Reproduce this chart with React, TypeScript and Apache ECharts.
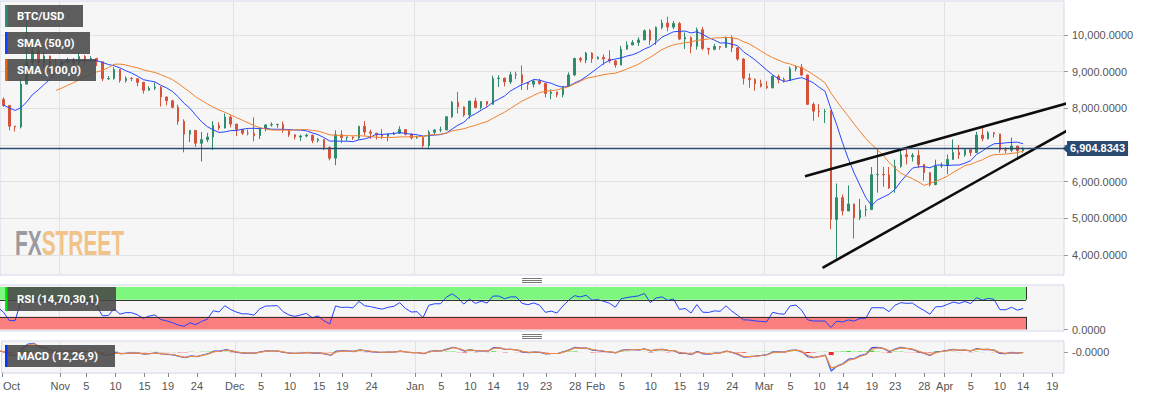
import React, { useEffect, useRef } from 'react';
import * as echarts from 'echarts';

// ---------- data (daily candles) ----------
const START_DATE = '2019-10-15';
const FIRST_OPEN = 8374;
const closes = [
  // Oct 15-31
  8205, 8016, 8081, 7951, 7955, 8222, 8243, 8078, 7514, 7493, 8660, 9244, 9551, 9256, 9427, 9205, 9199,
  // Nov
  9261, 9324, 9235, 9413, 9342, 9360, 9267, 8804, 8813, 9055, 8757, 8815, 8808, 8708, 8491, 8550, 8577, 8309, 8206, 8027,
  7642, 7296, 7397, 7047, 7146, 7218, 7531, 7463, 7761, 7569,
  // Dec
  7424, 7321, 7320, 7252, 7448, 7547, 7556, 7564, 7400, 7278, 7217, 7243, 7269, 7124, 7152, 6932, 6640, 7276, 7202, 7219,
  7191, 7511, 7355, 7322, 7275, 7238, 7290, 7317, 7422, 7293, 7193,
  // Jan
  7200, 6985, 7345, 7411, 7411, 7769, 8164, 8038, 7817, 8197, 8020, 8184, 8111, 8811, 8821, 8720, 8914, 8917, 8706, 8658,
  8745, 8680, 8406, 8445, 8368, 8596, 8910, 9358, 9316, 9508, 9351,
  // Feb
  9392, 9344, 9293, 9180, 9613, 9729, 9795, 9865, 10116, 9856, 10208, 10326, 10214, 10312, 9889, 9934, 9690, 10141, 9633, 9608,
  9686, 9663, 9924, 9650, 9342, 8820, 8784, 8672, 8599,
  // Mar
  8562, 8869, 8787, 8755, 9078, 9122, 8909, 8108, 7923, 7909, 7911, 4970, 5563, 5200, 5392, 5014, 5225, 5238, 6191, 6198,
  6185, 5830, 6416, 6734, 6681, 6716, 6469, 6243, 5922, 6429, 6438,
  // Apr 1-14
  6606, 6793, 6733, 6868, 6791, 7271, 7176, 7334, 7302, 6865, 6859, 6971, 6845, 6904.8343,
];
const highs = [
  8410, 8210, 8120, 8100, 8080, 8300, 8330, 8300, 8090, 7500, 8800, 10450, 9800, 9900, 9550, 9430, 9350,
  9300, 9380, 9370, 9520, 9450, 9420, 9380, 9260, 8880, 9120, 9070, 8870, 8850, 8820, 8720, 8600, 8700, 8600, 8320, 8230,
  8100, 7700, 7400, 7400, 7350, 7330, 7650, 7620, 7860, 7820,
  7570, 7430, 7420, 7750, 7480, 7560, 7620, 7570, 7640, 7420, 7290, 7280, 7310, 7280, 7190, 7160, 6960, 7400, 7400, 7230,
  7230, 7520, 7650, 7420, 7330, 7430, 7320, 7360, 7510, 7430, 7320,
  7250, 7210, 7400, 7430, 7500, 7790, 8200, 8450, 8050, 8200, 8290, 8190, 8200, 8890, 8900, 8840, 9000, 9000, 9170, 8700,
  8770, 8800, 8690, 8520, 8450, 8600, 8980, 9380, 9400, 9540, 9530,
  9420, 9470, 9580, 9320, 9700, 9830, 9860, 9940, 10150, 10160, 10230, 10420, 10500, 10380, 10350, 10070, 9960, 10200, 10220, 9650,
  9760, 9700, 9960, 9990, 9660, 9370, 8950, 8820, 8780,
  8740, 8900, 8920, 8840, 9140, 9170, 9210, 8920, 8160, 8120, 7980, 7950, 5950, 5650, 5900, 5380, 5530, 5360, 6400, 6900,
  6400, 6400, 6600, 6850, 6940, 6780, 6870, 6300, 6260, 6600, 6520,
  6740, 7150, 7000, 6900, 6880, 7360, 7460, 7380, 7350, 7300, 6940, 7200, 6960, 6940,
];
const lows = [
  8150, 7930, 7960, 7850, 7870, 7890, 8150, 8040, 7400, 7370, 7450, 8800, 9100, 9150, 9100, 9000, 8980,
  9050, 9220, 9090, 9150, 9190, 9280, 9150, 8740, 8770, 8780, 8700, 8700, 8740, 8600, 8400, 8480, 8500, 8050, 8080, 8000,
  7550, 6800, 7080, 6950, 6550, 7080, 6860, 7400, 7450, 7480,
  7240, 7270, 7260, 7100, 7160, 7370, 7500, 7470, 7330, 7220, 7150, 7110, 7210, 7050, 7070, 6860, 6580, 6450, 7050, 7110,
  7140, 7150, 7260, 7170, 7150, 7160, 7100, 7280, 7300, 7260, 7150,
  7170, 6930, 6880, 7280, 7350, 7400, 7740, 7860, 7770, 7720, 8000, 7970, 8050, 8100, 8580, 8600, 8660, 8800, 8500, 8500,
  8570, 8640, 8300, 8250, 8300, 8300, 8580, 8880, 9250, 9230, 9240,
  9330, 9180, 9230, 9110, 9180, 9600, 9720, 9700, 9880, 9730, 9730, 10150, 10100, 10160, 9860, 9620, 9500, 9600, 9580, 9460,
  9580, 9600, 9650, 9530, 9300, 8650, 8560, 8480, 8570,
  8530, 8540, 8680, 8700, 8760, 9010, 8880, 8090, 7660, 7760, 7600, 4700, 3900, 5080, 5200, 4450, 4950, 5050, 5230, 5700,
  5860, 5800, 5700, 6380, 6470, 6550, 6370, 6030, 5870, 5900, 6370,
  6200, 6600, 6620, 6680, 6700, 6790, 7100, 7150, 7200, 6790, 6780, 6800, 6600, 6790,
];

// trend lines (wedge) drawn on the chart: [datetime, price]
const trendUpper: [string, number][] = [['2020-03-08T01:30:00Z', 6150], ['2020-04-22T00:00:00Z', 8134]];
const trendLower: [string, number][] = [['2020-03-11T01:30:00Z', 3651], ['2020-04-22T00:00:00Z', 7389]];

// axes
const yTicks = [4000, 5000, 6000, 7000, 8000, 9000, 10000];
const yTickLabels = [4000, 5000, 6000, 8000, 9000, 10000];
const monthStarts = ['2019-11-01', '2019-12-01', '2020-01-01', '2020-02-01', '2020-03-01', '2020-04-01'];
const xTickDates = [
  '2019-10-22',
  '2019-11-01', '2019-11-05', '2019-11-10', '2019-11-15', '2019-11-19', '2019-11-24',
  '2019-12-01', '2019-12-05', '2019-12-10', '2019-12-15', '2019-12-19', '2019-12-24',
  '2020-01-01', '2020-01-05', '2020-01-10', '2020-01-14', '2020-01-19', '2020-01-23', '2020-01-28',
  '2020-02-01', '2020-02-05', '2020-02-10', '2020-02-15', '2020-02-19', '2020-02-24',
  '2020-03-01', '2020-03-05', '2020-03-10', '2020-03-14', '2020-03-19', '2020-03-23', '2020-03-28',
  '2020-04-01', '2020-04-05', '2020-04-10', '2020-04-14', '2020-04-19',
];
const xTickTexts = [
  'Oct',
  'Nov', '5', '10', '15', '19', '24',
  'Dec', '5', '10', '15', '19', '24',
  'Jan', '5', '10', '14', '19', '23', '28',
  'Feb', '5', '10', '15', '19', '24',
  'Mar', '5', '10', '14', '19', '23', '28',
  'Apr', '5', '10', '14', '19',
];

// indicator settings (4h periods expressed in daily candles)
const SMA_FAST = 8;
const SMA_SLOW = 17;
const RSI_PERIOD = 6;
const MACD_FAST = 12 / 6;
const MACD_SLOW = 26 / 6;
const MACD_SIGNAL = 9 / 6;

// ---------- layout ----------
const X_MIN = -10.09;
const X_MAX = 172.51;
const PLOT_RIGHT = 89;
const UP = '#2f8c6d';
const DOWN = '#d4543b';
const BLUE = '#2746ff';
const ORANGE = '#f2802f';
const NAVY = '#2b4a6f';
const AXIS_FONT = '"Liberation Sans", Arial, sans-serif';

const DAY0 = Date.UTC(2019, 10, 1);
const dayOf = (s: string) => (Date.parse(s.length === 10 ? s + 'T00:00:00Z' : s) - DAY0) / 86400000;
const fmt4 = (v: number) => v.toLocaleString('en-US', { minimumFractionDigits: 4, maximumFractionDigits: 4 });

function sma(c: number[], n: number) {
  const out: (number | null)[] = [];
  for (let i = 0; i < c.length; i++) {
    if (i < n - 1) { out.push(null); continue; }
    let s = 0;
    for (let k = i - n + 1; k <= i; k++) s += c[k];
    out.push(s / n);
  }
  return out;
}
function ema(c: number[], n: number) {
  const a = 2 / (n + 1);
  const out: number[] = [];
  let e = c[0];
  for (let i = 0; i < c.length; i++) { e = i === 0 ? c[0] : a * c[i] + (1 - a) * e; out.push(e); }
  return out;
}
function rsi(c: number[], p: number) {
  const out: (number | null)[] = c.map(() => null);
  let g = 0, l = 0;
  for (let i = 1; i <= p; i++) { const d = c[i] - c[i - 1]; g += Math.max(d, 0); l += Math.max(-d, 0); }
  g /= p; l /= p;
  out[p] = 100 - 100 / (1 + g / (l || 1e-9));
  for (let i = p + 1; i < c.length; i++) {
    const d = c[i] - c[i - 1];
    g = (g * (p - 1) + Math.max(d, 0)) / p;
    l = (l * (p - 1) + Math.max(-d, 0)) / p;
    out[i] = 100 - 100 / (1 + g / (l || 1e-9));
  }
  return out;
}

export default function App() {
  const ref = useRef<HTMLDivElement>(null);
  useEffect(() => {
    document.body.style.margin = '0';
    if (!ref.current) return;
    const chart = echarts.init(ref.current, null, { renderer: 'svg' });

    const startDay = dayOf(START_DATE);
    const xs = closes.map((_, i) => startDay + i + 0.5);
    const candles = closes.map((c, i) => [xs[i], i === 0 ? FIRST_OPEN : closes[i - 1], c, lows[i], highs[i]]);
    const toPts = (arr: (number | null)[]) =>
      arr.map((v, i) => (v == null ? null : [xs[i], v])).filter((p) => p !== null) as number[][];
    const smaF = toPts(sma(closes, SMA_FAST));
    const smaS = toPts(sma(closes, SMA_SLOW));
    const rsiPts = toPts(rsi(closes, RSI_PERIOD));
    const ef = ema(closes, MACD_FAST);
    const es = ema(closes, MACD_SLOW);
    const macd = ef.map((v, i) => v - es[i]);
    const sig = ema(macd, MACD_SIGNAL);
    const hist = macd.map((v, i) => v - sig[i]);
    let mn = 0, mx = 0;
    xs.forEach((x, i) => {
      if (x < X_MIN) return;
      mn = Math.min(mn, macd[i], sig[i], hist[i]);
      mx = Math.max(mx, macd[i], sig[i], hist[i]);
    });
    const K = Math.max(-mn / 19, mx / 9.5);
    const macdMin = -21 * K;
    const macdMax = 11 * K;
    const lastPrice = closes[closes.length - 1];
    const bandEnd = xs[xs.length - 1] + 0.5;

    const tickVals = xTickDates.map((d, i) => dayOf(d) + (/^\d+$/.test(xTickTexts[i]) ? 0.5 : 0));
    const monthVals = monthStarts.map(dayOf);

    const dataX = (gi: number, labels: boolean) => ({
      type: 'value', gridIndex: gi, min: X_MIN, max: X_MAX, position: 'bottom',
      axisLine: { show: false, onZero: false },
      splitLine: { show: false },
      axisTick: labels
        ? { show: true, length: 4, lineStyle: { color: '#8a8a8a' }, customValues: tickVals }
        : { show: false },
      axisLabel: labels
        ? {
            show: true, customValues: tickVals, color: '#555', fontSize: 11, margin: 7, fontFamily: AXIS_FONT,
            formatter: (v: number) => {
              const k = tickVals.findIndex((t) => Math.abs(t - v) < 1e-6);
              const t = k >= 0 ? xTickTexts[k] : '';
              return k === 0 ? '{o|' + t + '}' : t;
            },
            rich: { o: { padding: [0, 0, 0, 19], fontSize: 11, color: '#555', fontFamily: AXIS_FONT } },
          }
        : { show: false },
    });
    const monthX = (gi: number) => ({
      type: 'value', gridIndex: gi, min: X_MIN, max: X_MAX, position: 'top',
      axisLine: { show: false, onZero: false },
      axisTick: { show: false, customValues: monthVals },
      axisLabel: { show: false },
      splitLine: { show: true, lineStyle: { color: '#e2e2e2', width: 1 } },
    });
    const gridBase = { left: 0, right: PLOT_RIGHT, show: true, backgroundColor: '#f6f6f6', borderColor: '#d3d8ea', borderWidth: 1 };
    const yLabel = { color: '#555', fontSize: 11, margin: 8, fontFamily: AXIS_FONT };

    const option: any = {
      animation: false,
      textStyle: { fontFamily: AXIS_FONT },
      grid: [
        { ...gridBase, top: 1, height: 274 },
        { ...gridBase, top: 285, height: 46 },
        { ...gridBase, top: 341, height: 32 },
      ],
      xAxis: [dataX(0, false), dataX(1, false), dataX(2, true), monthX(0), monthX(1), monthX(2)],
      yAxis: [
        {
          type: 'value', gridIndex: 0, position: 'right', min: 3455, max: 10926,
          axisLine: { show: false, onZero: false },
          axisTick: { show: true, length: 4, lineStyle: { color: '#999' }, customValues: yTicks },
          axisLabel: { ...yLabel, customValues: yTickLabels, formatter: (v: number) => fmt4(v) },
          splitLine: { show: true, lineStyle: { color: '#e2e2e2' } },
        },
        {
          type: 'value', gridIndex: 1, position: 'right', min: -3.5, max: 104.7,
          axisLine: { show: false, onZero: false },
          axisTick: { show: true, length: 4, lineStyle: { color: '#999' }, customValues: [0] },
          axisLabel: { ...yLabel, customValues: [0], formatter: (v: number) => fmt4(v) },
          splitLine: { show: false },
        },
        {
          type: 'value', gridIndex: 2, position: 'right', min: macdMin, max: macdMax,
          axisLine: { show: false, onZero: false },
          axisTick: { show: true, length: 4, lineStyle: { color: '#999' }, customValues: [0] },
          axisLabel: { ...yLabel, customValues: [0], formatter: () => '-0.0000' },
          splitLine: { show: false },
        },
      ],
      series: [
        {
          type: 'candlestick', name: 'BTC/USD', xAxisIndex: 0, yAxisIndex: 0, clip: true, z: 2,
          barWidth: 2,
          data: candles,
          itemStyle: { color: UP, color0: DOWN, borderColor: UP, borderColor0: DOWN, borderWidth: 1 },
          markLine: {
            silent: true, symbol: ['none', 'none'], z: 6,
            lineStyle: { color: NAVY, width: 1.3, type: 'solid' },
            label: {
              show: true, position: 'end', distance: 3, formatter: () => fmt4(lastPrice),
              backgroundColor: NAVY, color: '#fff', fontWeight: 'bold', fontSize: 11, padding: [2, 3, 2, 3],
              fontFamily: AXIS_FONT,
            },
            data: [{ yAxis: lastPrice }],
          },
        },
        { type: 'line', name: 'SMA (50,0)', xAxisIndex: 0, yAxisIndex: 0, data: smaF, showSymbol: false, clip: true, z: 3,
          lineStyle: { color: BLUE, width: 1 }, itemStyle: { color: BLUE } },
        { type: 'line', name: 'SMA (100,0)', xAxisIndex: 0, yAxisIndex: 0, data: smaS, showSymbol: false, clip: true, z: 3,
          lineStyle: { color: ORANGE, width: 1 }, itemStyle: { color: ORANGE } },
        { type: 'line', xAxisIndex: 0, yAxisIndex: 0, data: trendUpper.map(([d, v]) => [dayOf(d), v]), showSymbol: false,
          clip: true, z: 4, lineStyle: { color: '#0d0d0d', width: 2.6 } },
        { type: 'line', xAxisIndex: 0, yAxisIndex: 0, data: trendLower.map(([d, v]) => [dayOf(d), v]), showSymbol: false,
          clip: true, z: 4, lineStyle: { color: '#0d0d0d', width: 2.6 } },
        {
          type: 'line', name: 'RSI', xAxisIndex: 1, yAxisIndex: 1, data: rsiPts, showSymbol: false, clip: true, z: 3,
          lineStyle: { color: '#2342ff', width: 1 },
          markArea: {
            silent: true,
            data: [
              [{ coord: [X_MIN, 70], itemStyle: { color: '#7ef77e' } }, { coord: [bandEnd, 100] }],
              [{ coord: [X_MIN, 0], itemStyle: { color: '#fb7f7f' } }, { coord: [bandEnd, 30] }],
            ],
          },
          markLine: {
            silent: true, symbol: ['none', 'none'], label: { show: false },
            lineStyle: { color: '#333', width: 1, type: 'solid' },
            data: [
              [{ coord: [X_MIN, 70] }, { coord: [bandEnd, 70] }],
              [{ coord: [X_MIN, 30] }, { coord: [bandEnd, 30] }],
              [{ coord: [bandEnd, 70] }, { coord: [bandEnd, 100] }],
              [{ coord: [bandEnd, 0] }, { coord: [bandEnd, 30] }],
            ],
          },
        },
        {
          type: 'bar', xAxisIndex: 2, yAxisIndex: 2, clip: true, barWidth: 5, z: 2,
          data: hist.map((v, i) => [xs[i], v]),
          itemStyle: { color: (p: any) => (p.value[1] >= 0 ? '#3ddc3d' : '#ee2c2c') },
        },
        { type: 'line', xAxisIndex: 2, yAxisIndex: 2, data: macd.map((v, i) => [xs[i], v]), showSymbol: false, clip: true, z: 3,
          lineStyle: { color: '#2c4dff', width: 1.2 } },
        { type: 'line', xAxisIndex: 2, yAxisIndex: 2, data: sig.map((v, i) => [xs[i], v]), showSymbol: false, clip: true, z: 3,
          lineStyle: { color: '#f08a3c', width: 1.2 } },
      ],
    };
    chart.setOption(option);

    const py = chart.convertToPixel({ yAxisIndex: 0 }, lastPrice) as number;
    const canvas = document.createElement('canvas');
    const ctx = canvas.getContext('2d')!;
    const wmFont = 'bold 36px "Liberation Sans", Arial, sans-serif';
    ctx.font = wmFont;
    const wAll = ctx.measureText('FXSTREET').width || 142;
    const wFx = ctx.measureText('FX').width || 46;
    const sc = 109 / wAll;

    const legends = [
      { y: 5, w: 78, h: 22, bar: '#2f8f72', text: 'BTC/USD' },
      { y: 32, w: 85, h: 22, bar: '#1a3cff', text: 'SMA (50,0)' },
      { y: 59, w: 91, h: 22, bar: '#e8650f', text: 'SMA (100,0)' },
      { y: 287, w: 111, h: 24, bar: '#00ee00', text: 'RSI (14,70,30,1)' },
      { y: 345, w: 110, h: 22, bar: '#0b34ff', text: 'MACD (12,26,9)' },
    ];
    const graphics: any[] = [];
    legends.forEach((l) => {
      graphics.push({ type: 'rect', z: 100, shape: { x: 5, y: l.y, width: l.w, height: l.h }, style: { fill: 'rgba(72,72,72,0.88)' } });
      graphics.push({ type: 'rect', z: 101, shape: { x: 5, y: l.y, width: 2.5, height: l.h }, style: { fill: l.bar } });
      graphics.push({ type: 'text', z: 101, x: 17, y: l.y + l.h / 2,
        style: { text: l.text, fill: '#fff', font: 'bold 11.3px Roboto, "Liberation Sans", sans-serif', verticalAlign: 'middle' } });
    });
    graphics.push({ type: 'text', z: 1, x: 15, y: 242, scaleX: sc,
      style: { text: 'FX', fill: '#9a9ba0', font: wmFont, verticalAlign: 'middle' } });
    graphics.push({ type: 'text', z: 1, x: 15 + wFx * sc, y: 242, scaleX: sc,
      style: { text: 'STREET', fill: '#f1c289', font: wmFont, verticalAlign: 'middle' } });
    graphics.push({ type: 'polygon', z: 100, shape: { points: [[1062.5, py], [1067.5, py - 4.5], [1067.5, py + 4.5]] }, style: { fill: NAVY } });
    [278.5, 280.5, 282.5, 334.5, 336.5, 338.5].forEach((y) => {
      graphics.push({ type: 'line', z: 100, shape: { x1: 522, y1: y, x2: 542, y2: y }, style: { stroke: '#7a7a7a', lineWidth: 1 } });
    });
    chart.setOption({ graphic: graphics });

    return () => chart.dispose();
  }, []);
  return <div ref={ref} style={{ width: 1153, height: 399 }} />;
}
